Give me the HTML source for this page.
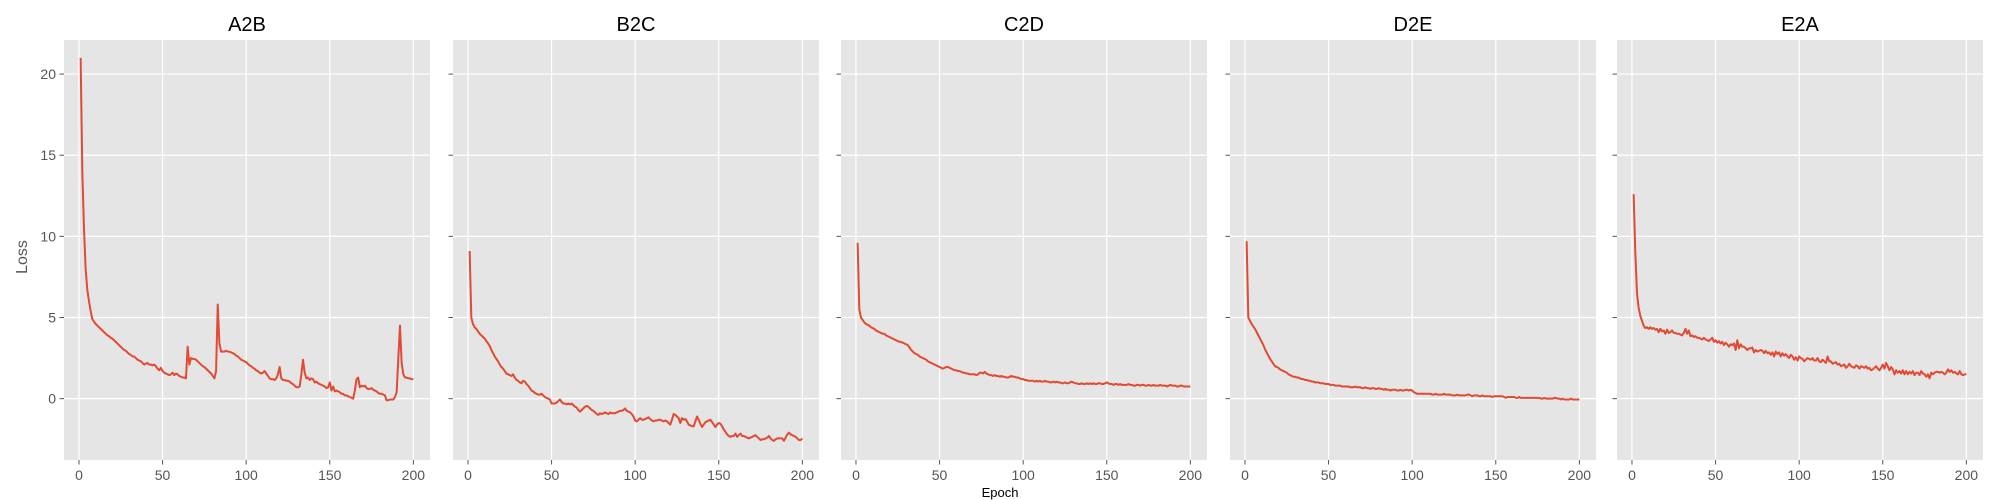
<!DOCTYPE html>
<html><head><meta charset="utf-8"><style>
body{margin:0;background:#fff;}
svg{display:block;font-family:"Liberation Sans","DejaVu Sans",sans-serif;}
</style></head><body>
<svg id="fig" width="2000" height="500" xmlns="http://www.w3.org/2000/svg"></svg>
<script>
const panelTitles = ["A2B","B2C","C2D","D2E","E2A"];
const xTicks = [0,50,100,150,200];
const yTicks = [0,5,10,15,20];
const lossA2B = [21.0,14.0,10.5,8.0,6.7,6.0,5.4,4.9,4.75,4.6,
4.5,4.4,4.3,4.2,4.1,4.0,3.9,3.85,3.75,3.7,
3.6,3.5,3.4,3.3,3.2,3.1,3.0,2.95,2.85,2.75,
2.7,2.6,2.6,2.5,2.4,2.35,2.3,2.2,2.1,2.15,
2.2,2.1,2.1,2.05,2.1,2.0,1.85,1.75,1.9,1.7,
1.6,1.55,1.5,1.45,1.5,1.6,1.45,1.55,1.5,1.4,
1.35,1.3,1.3,1.25,3.2,2.1,2.5,2.45,2.45,2.4,
2.3,2.2,2.1,2.0,1.95,1.85,1.75,1.65,1.55,1.4,
1.25,1.7,5.8,3.4,2.9,2.9,2.9,2.95,2.9,2.9,
2.85,2.8,2.75,2.65,2.6,2.5,2.4,2.35,2.3,2.25,
2.15,2.05,2.0,1.9,1.85,1.75,1.7,1.6,1.55,1.6,
1.7,1.55,1.4,1.25,1.2,1.2,1.15,1.25,1.5,1.95,
1.25,1.15,1.15,1.1,1.1,1.05,0.95,0.9,0.8,0.7,
0.7,0.75,1.5,2.4,1.6,1.25,1.3,1.15,1.25,1.2,
1.0,1.05,0.95,0.9,0.85,0.8,0.75,0.65,0.7,1.0,
0.5,0.75,0.45,0.5,0.45,0.4,0.3,0.3,0.2,0.2,
0.15,0.1,0.05,0.0,0.5,1.2,1.3,0.7,0.8,0.75,
0.8,0.65,0.6,0.6,0.65,0.55,0.5,0.45,0.35,0.3,
0.3,0.25,0.2,-0.1,-0.1,-0.05,-0.05,-0.05,0.1,0.4,
2.5,4.5,2.2,1.5,1.3,1.3,1.25,1.25,1.2,1.2];
const lossB2C = [9.1,5.0,4.6,4.4,4.3,4.15,4.0,3.9,3.8,3.7,
3.55,3.4,3.25,3.0,2.8,2.6,2.45,2.3,2.1,1.95,
1.85,1.7,1.55,1.5,1.45,1.4,1.5,1.3,1.15,1.1,
1.0,0.95,1.1,1.05,0.9,0.8,0.65,0.5,0.45,0.35,
0.3,0.25,0.25,0.3,0.2,0.1,0.05,0.0,-0.05,-0.3,
-0.3,-0.3,-0.25,-0.15,-0.05,-0.2,-0.3,-0.3,-0.35,-0.3,
-0.35,-0.3,-0.4,-0.5,-0.55,-0.7,-0.8,-0.7,-0.6,-0.5,
-0.45,-0.5,-0.6,-0.7,-0.75,-0.85,-0.95,-1.0,-0.9,-0.95,
-0.9,-0.85,-0.9,-0.95,-0.85,-0.9,-0.9,-0.9,-0.85,-0.8,
-0.75,-0.75,-0.7,-0.6,-0.75,-0.8,-0.85,-0.95,-1.1,-1.35,
-1.4,-1.3,-1.2,-1.3,-1.3,-1.25,-1.2,-1.15,-1.25,-1.35,
-1.4,-1.35,-1.35,-1.3,-1.3,-1.35,-1.4,-1.35,-1.4,-1.5,
-1.6,-1.3,-0.95,-1.0,-1.1,-1.2,-1.5,-1.2,-1.3,-1.25,
-1.4,-1.6,-1.65,-1.7,-1.7,-1.4,-1.1,-1.3,-1.55,-1.75,
-1.6,-1.45,-1.4,-1.35,-1.3,-1.45,-1.6,-1.75,-1.6,-1.5,
-1.55,-1.7,-1.9,-2.05,-2.2,-2.3,-2.35,-2.3,-2.3,-2.15,
-2.35,-2.25,-2.15,-2.3,-2.3,-2.35,-2.4,-2.45,-2.4,-2.35,
-2.3,-2.25,-2.35,-2.45,-2.55,-2.5,-2.5,-2.45,-2.4,-2.3,
-2.45,-2.55,-2.6,-2.5,-2.45,-2.45,-2.45,-2.45,-2.6,-2.4,
-2.2,-2.1,-2.2,-2.25,-2.3,-2.35,-2.45,-2.55,-2.55,-2.45];
const lossC2D = [9.6,5.5,5.0,4.85,4.7,4.6,4.55,4.5,4.4,4.35,
4.3,4.2,4.15,4.1,4.05,4.0,4.0,3.9,3.85,3.8,
3.75,3.7,3.65,3.6,3.55,3.5,3.5,3.45,3.4,3.35,
3.3,3.15,3.0,2.9,2.8,2.75,2.7,2.6,2.55,2.5,
2.45,2.4,2.3,2.25,2.2,2.15,2.1,2.05,2.0,1.95,
1.9,1.85,1.9,1.95,1.95,1.9,1.85,1.8,1.75,1.75,
1.7,1.7,1.65,1.6,1.6,1.55,1.55,1.5,1.5,1.5,
1.5,1.45,1.5,1.6,1.6,1.55,1.65,1.55,1.5,1.45,
1.45,1.4,1.45,1.4,1.4,1.35,1.4,1.35,1.35,1.3,
1.3,1.35,1.4,1.35,1.35,1.3,1.3,1.25,1.2,1.2,
1.15,1.15,1.1,1.1,1.1,1.1,1.05,1.1,1.05,1.1,
1.05,1.05,1.1,1.05,1.05,1.0,1.0,1.05,1.0,1.05,
1.0,1.0,0.95,0.95,1.0,0.95,0.95,1.0,1.05,1.0,
0.95,0.95,0.9,0.9,0.95,0.9,0.9,0.95,0.9,0.95,
0.9,0.95,0.9,0.9,0.95,0.95,0.9,0.9,0.95,1.0,
0.95,0.9,0.9,0.85,0.9,0.9,0.85,0.9,0.85,0.85,
0.85,0.85,0.9,0.85,0.85,0.8,0.8,0.85,0.85,0.8,
0.85,0.85,0.8,0.8,0.85,0.8,0.8,0.85,0.8,0.8,
0.8,0.85,0.8,0.8,0.8,0.75,0.8,0.85,0.8,0.8,
0.8,0.75,0.75,0.8,0.8,0.75,0.75,0.75,0.75,0.75];
const lossD2E = [9.7,5.0,4.8,4.6,4.45,4.3,4.1,3.9,3.7,3.5,
3.3,3.05,2.85,2.65,2.45,2.3,2.15,2.0,1.95,1.9,
1.8,1.75,1.7,1.65,1.6,1.5,1.45,1.4,1.35,1.35,
1.3,1.3,1.25,1.2,1.2,1.15,1.15,1.1,1.1,1.05,
1.05,1.0,1.0,1.0,0.95,0.95,0.95,0.9,0.9,0.9,
0.85,0.85,0.85,0.8,0.8,0.8,0.8,0.75,0.75,0.75,
0.75,0.75,0.7,0.7,0.7,0.75,0.7,0.7,0.7,0.65,
0.65,0.7,0.65,0.65,0.6,0.65,0.65,0.6,0.6,0.65,
0.6,0.6,0.55,0.6,0.55,0.55,0.5,0.55,0.55,0.55,
0.5,0.5,0.55,0.5,0.5,0.55,0.55,0.5,0.55,0.5,
0.4,0.35,0.3,0.3,0.3,0.3,0.3,0.3,0.3,0.3,
0.3,0.25,0.25,0.3,0.25,0.25,0.25,0.25,0.3,0.25,
0.25,0.25,0.25,0.2,0.2,0.2,0.25,0.2,0.2,0.2,
0.2,0.2,0.25,0.25,0.2,0.15,0.2,0.2,0.2,0.15,
0.15,0.2,0.15,0.15,0.15,0.15,0.15,0.1,0.15,0.15,
0.15,0.15,0.15,0.15,0.1,0.05,0.1,0.1,0.1,0.1,
0.1,0.05,0.05,0.1,0.05,0.05,0.05,0.05,0.05,0.05,
0.05,0.05,0.05,0.05,0.05,0.05,0.0,0.0,0.05,0.0,
0.0,0.0,0.0,0.0,0.05,0.05,0.0,0.0,-0.05,0.0,
-0.05,-0.05,-0.05,-0.05,0.0,-0.05,-0.05,-0.05,-0.05,-0.05];
const lossE2A = [12.6,9.0,6.5,5.6,5.1,4.8,4.5,4.35,4.4,4.3,
4.4,4.3,4.35,4.25,4.3,4.1,4.3,4.15,4.2,4.0,
4.25,4.05,4.1,4.2,4.05,4.05,4.0,4.0,3.95,3.9,
4.05,4.3,4.0,4.2,3.85,3.9,3.8,3.85,3.75,3.75,
3.7,3.65,3.75,3.65,3.6,3.55,3.65,3.75,3.5,3.6,
3.45,3.55,3.4,3.5,3.3,3.45,3.35,3.2,3.35,3.3,
3.4,3.0,3.6,3.1,3.35,3.2,3.2,3.1,3.0,3.1,
3.1,3.15,2.85,3.0,2.9,2.95,3.0,2.95,2.8,2.95,
2.8,2.85,2.7,2.85,2.6,2.9,2.75,2.85,2.6,2.8,
2.65,2.75,2.6,2.5,2.7,2.6,2.4,2.55,2.35,2.6,
2.5,2.45,2.3,2.4,2.5,2.45,2.4,2.5,2.35,2.35,
2.5,2.3,2.25,2.4,2.3,2.2,2.6,2.3,2.3,2.15,
2.2,2.25,2.1,2.15,2.0,2.05,2.1,1.9,2.0,2.15,
2.0,1.95,1.9,2.05,2.0,1.85,2.0,1.95,1.9,2.0,
1.85,1.9,1.75,1.8,1.9,2.0,1.85,1.75,1.9,2.1,
1.85,2.2,2.0,1.75,1.95,1.8,1.5,1.75,1.6,1.7,
1.55,1.75,1.5,1.7,1.5,1.65,1.55,1.7,1.45,1.6,
1.6,1.45,1.7,1.55,1.5,1.35,1.5,1.25,1.6,1.5,
1.6,1.65,1.65,1.6,1.65,1.6,1.5,1.6,1.8,1.65,
1.75,1.6,1.65,1.55,1.5,1.7,1.5,1.45,1.5,1.5];
const seriesList = [lossA2B,lossB2C,lossC2D,lossD2E,lossE2A];

const NS="http://www.w3.org/2000/svg";
const svg=document.getElementById('fig');
const lefts=[64,453,841,1230,1617], W=366, TOP=40, H=420;
const XMIN=-8.95, XMAX=209.95, YMIN=-3.78, YMAX=22.1;
function mk(tag,attrs,parent){const e=document.createElementNS(NS,tag);for(const k in attrs)e.setAttribute(k,attrs[k]);(parent||svg).appendChild(e);return e;}

seriesList.forEach((vals,p)=>{
  const L=lefts[p];
  const sx=v=>L+(v-XMIN)/(XMAX-XMIN)*W;
  const sy=v=>TOP+(YMAX-v)/(YMAX-YMIN)*H;
  const g=mk('g',{});
  
  
  const bg=mk('rect',{x:L,y:TOP,width:W,height:H,fill:'#e5e5e5'},g);
  
  
  xTicks.forEach(t=>{
    const x=sx(t);
    const gl=mk('line',{x1:x,x2:x,y1:TOP,y2:TOP+H,stroke:'#fff','stroke-width':1.2},g);
    
    
    mk('line',{x1:x,x2:x,y1:TOP+H,y2:TOP+H+4.5,stroke:'#555','stroke-width':1},g);
    const tl=mk('text',{x:x,y:TOP+H+20,'text-anchor':'middle','font-size':14,fill:'#555'},g);
    tl.textContent=t;
    
    
  });
  yTicks.forEach(t=>{
    const y=sy(t);
    const gl=mk('line',{x1:L,x2:L+W,y1:y,y2:y,stroke:'#fff','stroke-width':1.2},g);
    
    
    mk('line',{x1:L-4.5,x2:L,y1:y,y2:y,stroke:'#555','stroke-width':1},g);
    if(p===0){
      const tl=mk('text',{x:L-8,y:y+5,'text-anchor':'end','font-size':14,fill:'#555'},g);
      tl.textContent=t;
      
      
    }
  });
  const d=vals.map((v,i)=>(i?'L':'M')+sx(i+1).toFixed(2)+','+sy(v).toFixed(2)).join('');
  const path=mk('path',{d:d,fill:'none',stroke:'#E24A33','stroke-width':2,'stroke-linejoin':'round'},g);
  
  
  const title=mk('text',{x:L+W/2,y:31,'text-anchor':'middle','font-size':20,fill:'#000'},g);
  title.textContent=panelTitles[p];
  
  
});
const yl=mk('text',{x:0,y:0,'text-anchor':'middle','font-size':16,fill:'#555',transform:'translate(27,257) rotate(-90)'});
yl.textContent='Loss';


const xl=mk('text',{x:1000,y:497,'text-anchor':'middle','font-size':13,fill:'#000'});
xl.textContent='Epoch';


</script>
</body></html>
